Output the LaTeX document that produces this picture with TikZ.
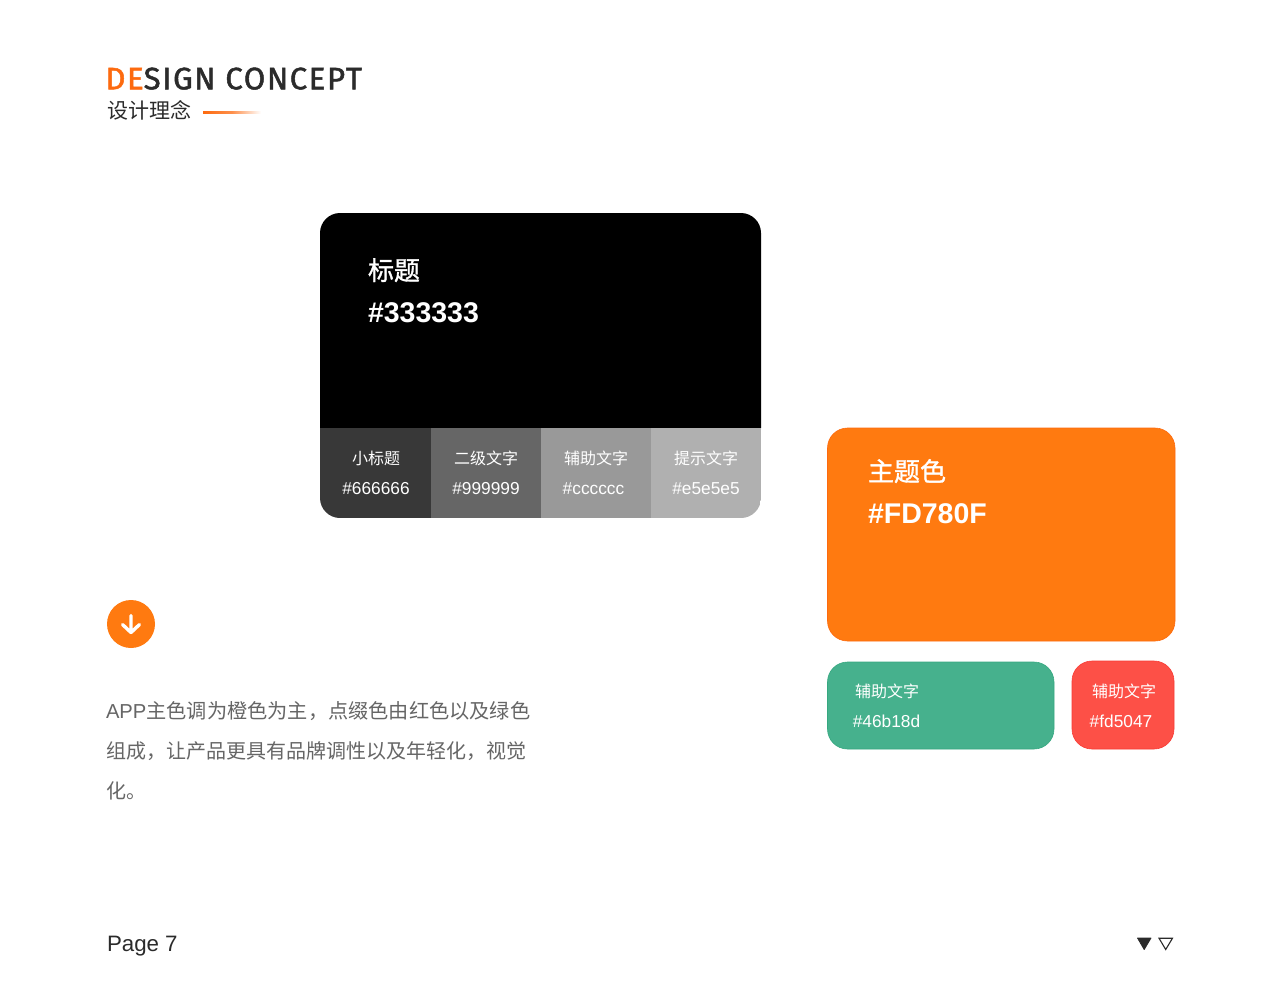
\documentclass[tikz,border=0pt]{standalone}
\usepackage{fontspec}
\setmainfont{Liberation Sans}
\newfontfamily\cjk{Noto Sans CJK SC}
\newfontfamily\cjkmed[FakeBold=1.2]{Noto Sans CJK SC}
\newfontfamily\titlefont[LetterSpace=5.4,FakeBold=1.6]{Fira Sans}
\definecolor{brand}{HTML}{FF7A10}
\definecolor{titleorange}{HTML}{FD6A0F}
\definecolor{ink}{HTML}{2B2B2B}
\definecolor{body}{HTML}{666666}
\definecolor{seg1}{HTML}{383838}
\definecolor{seg2}{HTML}{666666}
\definecolor{seg3}{HTML}{999999}
\definecolor{seg4}{HTML}{B0B0B0}
\definecolor{greenc}{HTML}{46B18D}
\definecolor{greenl}{HTML}{36A880}
\definecolor{redc}{HTML}{FD5047}
\definecolor{redl}{HTML}{F93A34}
\definecolor{brandl}{HTML}{FD6A0F}
\tikzset{
  txt/.style={inner sep=0pt,outer sep=0pt,anchor=base west},
  ctxt/.style={inner sep=0pt,outer sep=0pt,anchor=base,text=white},
  small/.style={ctxt,font=\fontsize{17.3}{17.3}\selectfont},
  smallcjk/.style={ctxt,font=\fontsize{16}{16}\selectfont\cjk},
  big/.style={txt,text=white,font=\fontsize{28.5}{28.5}\selectfont},
  bigcjk/.style={txt,text=white,font=\fontsize{26}{26}\selectfont\cjkmed},
  desc/.style={txt,text=body,font=\fontsize{20.2}{20.2}\selectfont},
}
\begin{document}
\begin{tikzpicture}[x=1pt,y=-1pt]
\useasboundingbox (0,0) rectangle (1280,989);
\fill[white] (0,0) rectangle (1280,989);
% header
\node[txt,font=\fontsize{31}{31}\selectfont\titlefont] (title) at (105.5,89.3) {\textcolor{titleorange}{DE}\textcolor{ink}{SIGN CONCEPT}};
\node[txt,text=ink,font=\fontsize{21}{21}\selectfont\cjk] (subtitle) at (107,118) {设计理念};
\shade[left color=titleorange,right color=white,middle color=titleorange!75!white] (203,111) rectangle (261,113.2);
% black card
\fill[black] (320,428.2) -- (320,233) .. controls (320,222) and (329,213) .. (340,213) -- (741,213) .. controls (752,213) and (761,222) .. (761,233) -- (761,428.2) -- cycle;
\begin{scope}
\clip (320,428) -- (761,428) -- (761,498) .. controls (761,509) and (752,518) .. (741,518) -- (340,518) .. controls (329,518) and (320,509) .. (320,498) -- cycle;
\fill[seg1] (320,428) rectangle (431,518);
\fill[seg2] (431,428) rectangle (541,518);
\fill[seg3] (541,428) rectangle (651,518);
\fill[seg4] (651,428) rectangle (761,518);
\end{scope}
\node[bigcjk] (t1) at (368,280) {标题};
\node[big] (t2) at (368,322) {\textbf{\#333333}};
\node[smallcjk] (s1a) at (376,464) {小标题};
\node[small] (s1b) at (376,494) {\#666666};
\node[smallcjk] (s2a) at (486,464) {二级文字};
\node[small] (s2b) at (486,494) {\#999999};
\node[smallcjk] (s3a) at (596,464) {辅助文字};
\node[small] (s3b) at (593.5,494) {\#cccccc};
\node[smallcjk] (s4a) at (706,464) {提示文字};
\node[small] (s4b) at (706,494) {\#e5e5e5};
% orange card
\draw[brandl,fill=brand,line width=0.6,rounded corners=20] (827.5,428) rectangle (1175,641);
\node[bigcjk] (o1) at (868,481) {主题色};
\node[big] (o2) at (868,523) {\textbf{\#FD780F}};
% green and red
\draw[greenl,fill=greenc,line width=0.6,rounded corners=20] (827.5,662) rectangle (1054,749);
\node[smallcjk] (g1) at (887,697) {辅助文字};
\node[small] (g2) at (886.5,727) {\#46b18d};
\draw[redl,fill=redc,line width=0.6,rounded corners=20] (1072,661) rectangle (1174,749);
\node[smallcjk] (r1) at (1124,697) {辅助文字};
\node[small] (r2) at (1121,727) {\#fd5047};
% down arrow badge
\fill[brand] (131,624) circle (24);
\draw[white,line width=3.4,line cap=round,line join=round] (131,615.5) -- (131,632.5) (122.5,624.5) -- (131,632.5) -- (139.5,624.5);
% description
\node[desc] (d1) at (106,718) {APP{\cjk 主色调为橙色为主，点缀色由红色以及绿色}};
\node[desc,font=\fontsize{20}{20}\selectfont\cjk] (d2) at (106,758) {组成，让产品更具有品牌调性以及年轻化，视觉};
\node[desc,font=\fontsize{20}{20}\selectfont\cjk] (d3) at (106,798) {化。};
% footer
\node[txt,text=ink,font=\fontsize{22.3}{22.3}\selectfont] (page) at (107,951) {Page 7};
\fill[ink,draw=ink,line width=0.8,line join=round] (1137.5,938) -- (1151,938) -- (1144.2,949.5) -- cycle;
\draw[ink,line width=1.1] (1159,938.2) -- (1172.5,938.2) -- (1165.7,949.5) -- cycle;
\end{tikzpicture}
\end{document}
